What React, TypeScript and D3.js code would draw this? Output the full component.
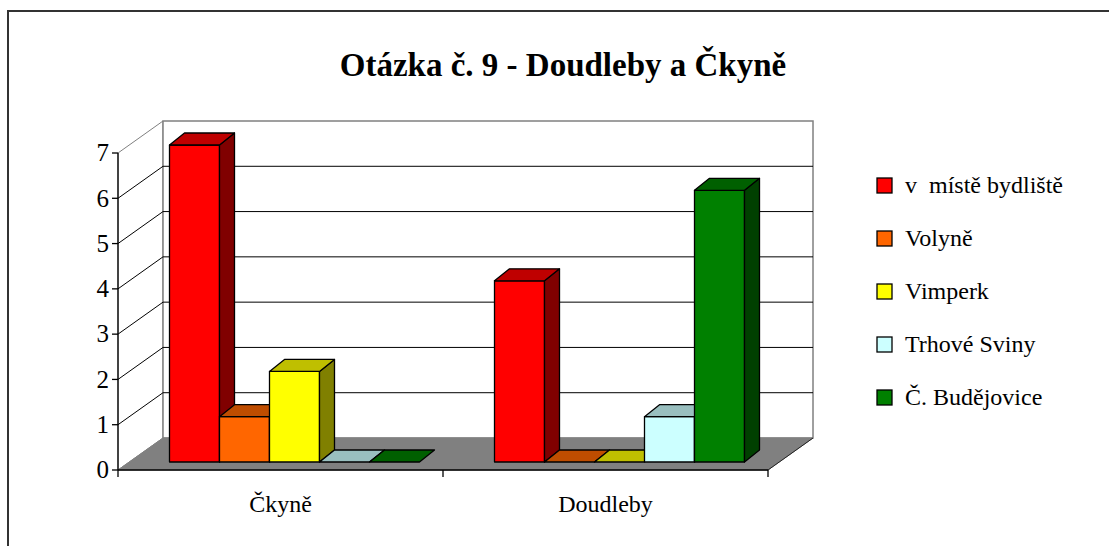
import * as d3 from "d3";
import React from "react";

const categories = ["Čkyně", "Doudleby"];
const seriesNames = ["v  místě bydliště", "Volyně", "Vimperk", "Trhové Sviny", "Č. Budějovice"];
const ckyneValues = [7, 1, 2, 0, 0];
const doudlebyValues = [4, 0, 0, 1, 6];
const seriesColors = ["#ff0000", "#ff6600", "#ffff00", "#ccffff", "#008000"];
const yTicks = [0, 1, 2, 3, 4, 5, 6, 7];

const W = 1109;
const H = 546;
const FONT = { fontFamily: "Liberation Serif" };

// plot frame (front plane) and depth offsets
const left = 118;
const right = 768;
const wall = { dx: 45, dy: -32 };
const barFront = { dx: 14, dy: -8 };
const barBack = { dx: 29, dy: -20 };

function pts(list) {
  return list.map((p) => p.join(",")).join(" ");
}

function shade(c, k) {
  const rgb = d3.rgb(c);
  return d3.rgb(rgb.r * k, rgb.g * k, rgb.b * k).formatHex();
}

function Bar({ x, w, y0, y1, color }) {
  const fx0 = x + barFront.dx;
  const fx1 = x + w + barFront.dx;
  const fb = y0 + barFront.dy;
  const ft = y1 + barFront.dy;
  const bx0 = x + barBack.dx;
  const bx1 = x + w + barBack.dx;
  const bb = y0 + barBack.dy;
  const bt = y1 + barBack.dy;
  const flat = Math.abs(y0 - y1) < 0.5;
  return (
    <g stroke="#000" strokeWidth={1.3} strokeLinejoin="round">
      {!flat && (
        <polygon points={pts([[fx0, fb], [fx1, fb], [fx1, ft], [fx0, ft]])} fill={color} />
      )}
      {!flat && (
        <polygon points={pts([[fx1, fb], [bx1, bb], [bx1, bt], [fx1, ft]])} fill={shade(color, 0.5)} />
      )}
      <polygon points={pts([[fx0, ft], [fx1, ft], [bx1, bt], [bx0, bt]])} fill={shade(color, 0.75)} />
    </g>
  );
}

export default function App() {
  const y = d3.scaleLinear().domain([0, 7]).range([470, 153]);
  const x0 = d3.scaleBand().domain(categories).range([left, right]);
  const x1 = d3
    .scaleBand()
    .domain(seriesNames)
    .range([0, x0.bandwidth()])
    .paddingOuter(0.75);

  const rows = [ckyneValues, doudlebyValues];
  const yTop = y(7);
  const yBot = y(0);

  return (
    <div style={{ position: "fixed", left: 0, top: 0, fontFamily: "Liberation Serif" }}>
      <svg width={W} height={H} style={{ display: "block", background: "#fff", fontFamily: "Liberation Serif" }}>
        <style>{`text { font-family: "Liberation Serif", "Times New Roman", serif !important; }`}</style>
        <rect x={8} y={11} width={W + 20} height={H + 20} fill="#fff" stroke="#333" strokeWidth={2} />

        <text x={563} y={76} textAnchor="middle" fontWeight="bold" fontSize={33} style={FONT}>
          Otázka č. 9 - Doudleby a Čkyně
        </text>

        {/* left side wall */}
        <polygon
          points={pts([[left, yBot], [left + wall.dx, yBot + wall.dy], [left + wall.dx, yTop + wall.dy], [left, yTop]])}
          fill="#fff"
          stroke="#808080"
        />
        {/* back wall */}
        <rect
          x={left + wall.dx}
          y={yTop + wall.dy}
          width={right - left}
          height={yBot - yTop}
          fill="#fff"
          stroke="#808080"
          strokeWidth={1.5}
        />
        {/* floor */}
        <polygon
          points={pts([[left, yBot], [right, yBot], [right + wall.dx, yBot + wall.dy], [left + wall.dx, yBot + wall.dy]])}
          fill="#808080"
          stroke="#808080"
        />
        <line x1={right} y1={yBot} x2={right + wall.dx} y2={yBot + wall.dy} stroke="#222" />

        {/* gridlines */}
        {yTicks.slice(1, 7).map((t) => (
          <g key={t} stroke="#000" strokeWidth={1}>
            <line x1={left} y1={y(t)} x2={left + wall.dx} y2={y(t) + wall.dy} />
            <line x1={left + wall.dx} y1={y(t) + wall.dy} x2={right + wall.dx} y2={y(t) + wall.dy} />
          </g>
        ))}

        {/* bars */}
        {categories.map((c, ci) =>
          seriesNames.map((s, si) => (
            <Bar
              key={c + s}
              x={x0(c) + x1(s)}
              w={x1.bandwidth()}
              y0={y(0)}
              y1={y(rows[ci][si])}
              color={seriesColors[si]}
            />
          ))
        )}

        {/* y axis */}
        <line x1={left} y1={yBot} x2={left} y2={yTop} stroke="#000" strokeWidth={1.3} />
        {yTicks.map((t) => (
          <g key={t}>
            <line x1={left - 6} y1={y(t)} x2={left} y2={y(t)} stroke="#000" strokeWidth={1.3} />
            <text x={left - 9} y={y(t)} dy="0.33em" textAnchor="end" fontSize={25} style={FONT}>
              {t}
            </text>
          </g>
        ))}

        {/* x axis */}
        <line x1={left} y1={yBot} x2={right} y2={yBot} stroke="#000" strokeWidth={1.3} />
        {[left, ...categories.map((c) => x0(c) + x0.bandwidth())].map((v, i) => (
          <line key={i} x1={v} y1={yBot} x2={v} y2={yBot + 7} stroke="#000" strokeWidth={1.3} />
        ))}
        {categories.map((c) => (
          <text
            key={c}
            x={x0(c) + x0.bandwidth() / 2}
            y={512}
            textAnchor="middle"
            fontSize={24}
            style={FONT}
          >
            {c}
          </text>
        ))}

        {/* legend */}
        {seriesNames.map((s, i) => (
          <g key={s} transform={`translate(877, ${185 + i * 53})`}>
            <rect x={0} y={-7} width={15} height={15} fill={seriesColors[i]} stroke="#000" strokeWidth={1.3} />
            <text x={28} y={0} dy="0.33em" fontSize={24} style={{ ...FONT, whiteSpace: "pre" }}>
              {s}
            </text>
          </g>
        ))}
      </svg>
    </div>
  );
}
